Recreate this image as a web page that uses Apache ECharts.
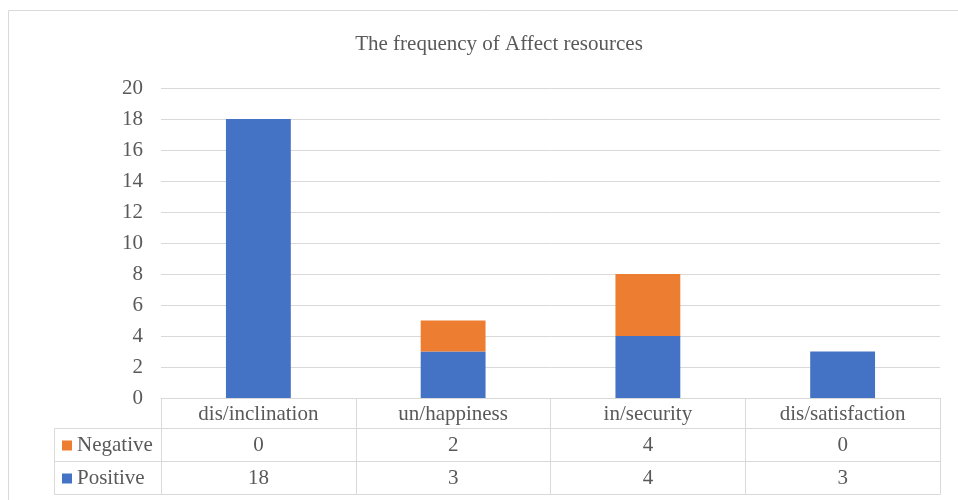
<!DOCTYPE html>
<html>
<head>
<meta charset="utf-8">
<script src="https://cdn.jsdelivr.net/npm/echarts@6/dist/echarts.min.js"></script>
<style>
  html, body { margin: 0; padding: 0; background: #fff; }
  #main { width: 958px; height: 500px; }
</style>
</head>
<body>
<div id="main"></div>
<script>
var categories = ['dis/inclination', 'un/happiness', 'in/security', 'dis/satisfaction'];
var negative = [0, 2, 4, 0];
var positive = [18, 3, 4, 3];
var yTicks = { min: 0, max: 20, interval: 2 };

var font = "'Liberation Serif', 'Times New Roman', serif";
var textColor = '#595959';
var lineColor = '#d9d9d9';

var myChart = echarts.init(document.getElementById('main'));

// one bottom axis per table row; the axis line draws the row border
function tableAxis(offset, values) {
    return {
        type: 'category',
        data: categories,
        position: 'bottom',
        offset: offset,
        axisLine: { show: true, lineStyle: { color: lineColor } },
        axisTick: { show: false },
        axisLabel: {
            show: values !== null,
            interval: 0,
            margin: 7,
            fontFamily: font,
            fontSize: 21,
            color: textColor,
            formatter: function (v, i) { return values ? String(values[i]) : ''; }
        }
    };
}

var option = {
    animation: false,
    textStyle: { fontFamily: font },
    title: {
        text: 'The frequency of Affect resources',
        left: 494,
        top: 29,
        textAlign: 'center',
        textStyle: { fontFamily: font, fontSize: 21, fontWeight: 'normal', color: textColor }
    },
    legend: {
        data: ['Negative', 'Positive'],
        orient: 'vertical',
        left: 57,
        top: 430,
        itemWidth: 10,
        itemHeight: 10,
        itemGap: 12,
        icon: 'rect',
        textStyle: { fontFamily: font, fontSize: 21, color: textColor, lineHeight: 20 }
    },
    grid: { left: 161, right: 18, top: 88, bottom: 102 },
    xAxis: [{
        type: 'category',
        data: categories,
        axisLine: { show: true, lineStyle: { color: lineColor } },
        axisTick: { show: true, interval: 0, length: 96, lineStyle: { color: lineColor } },
        axisLabel: { interval: 0, margin: 6, fontFamily: font, fontSize: 21, color: textColor }
    },
        tableAxis(30, negative),
        tableAxis(63, positive),
        tableAxis(96, null)
    ],
    yAxis: {
        type: 'value',
        min: yTicks.min,
        max: yTicks.max,
        interval: yTicks.interval,
        axisLine: { show: false },
        axisTick: { show: false },
        axisLabel: { margin: 18, fontFamily: font, fontSize: 21, color: textColor },
        splitLine: { lineStyle: { color: lineColor } }
    },
    series: [{
        name: 'Positive',
        type: 'bar',
        stack: 'total',
        data: positive,
        barWidth: '33.3%',
        itemStyle: { color: '#4472C4' }
    }, {
        name: 'Negative',
        type: 'bar',
        stack: 'total',
        data: negative,
        barWidth: '33.3%',
        itemStyle: { color: '#ED7D31' }
    }],
    graphic: [
        // outer chart border
        { type: 'rect', shape: { x: 8.5, y: 10.5, width: 1000, height: 600 }, style: { fill: 'none', stroke: lineColor }, silent: true },
        // legend column of the data table
        { type: 'line', shape: { x1: 54.5, y1: 428.5, x2: 161, y2: 428.5 }, style: { stroke: lineColor } },
        { type: 'line', shape: { x1: 54.5, y1: 461.5, x2: 161, y2: 461.5 }, style: { stroke: lineColor } },
        { type: 'line', shape: { x1: 54.5, y1: 494.5, x2: 161, y2: 494.5 }, style: { stroke: lineColor } },
        { type: 'line', shape: { x1: 54.5, y1: 428.5, x2: 54.5, y2: 494.5 }, style: { stroke: lineColor } }
    ]
};
myChart.setOption(option);
</script>
</body>
</html>
